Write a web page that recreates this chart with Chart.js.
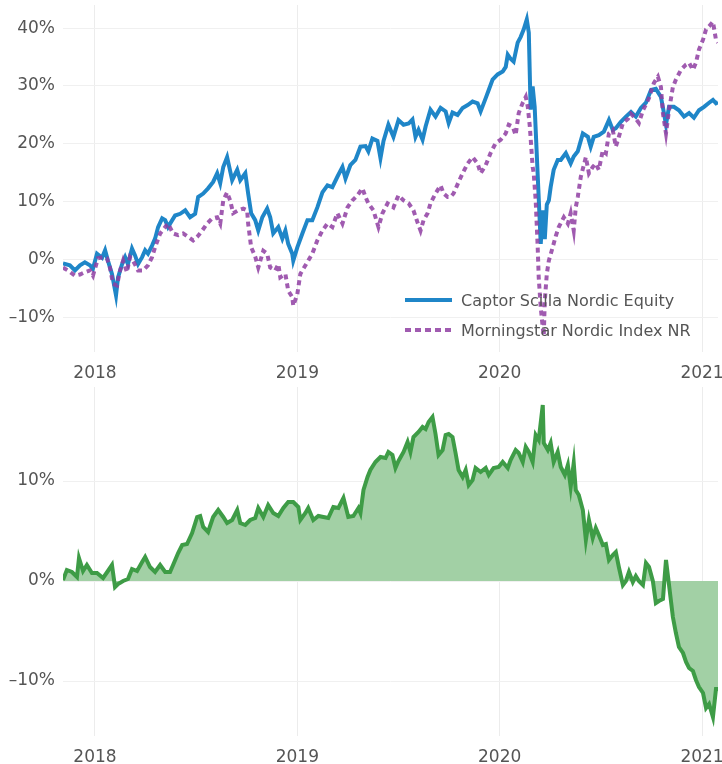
<!DOCTYPE html>
<html>
<head>
<meta charset="utf-8">
<script src="https://cdn.jsdelivr.net/npm/chart.js@4"></script>
<style>
  body { margin: 0; background: #fff; }
  #wrap { position: relative; width: 722px; height: 764px; overflow: hidden; }
  #topBox { position: absolute; left: 0; top: 0; width: 722px; height: 385px; }
  #bottomBox { position: absolute; left: 0; top: 385px; width: 722px; height: 379px; }
  .legend { position: absolute; left: 405px; top: 285px; font: 16px 'DejaVu Sans', sans-serif; color: #555; }
  .legend div { display: flex; align-items: center; height: 30px; white-space: nowrap; }
  .legend svg { margin-right: 9px; }
</style>
</head>
<body>
<div id="wrap">
  <div id="topBox"><canvas id="perfChart"></canvas></div>
  <div id="bottomBox"><canvas id="relChart"></canvas></div>
  <div class="legend">
    <div><svg width="47" height="6"><line x1="0" y1="3" x2="47" y2="3" stroke="#1f86c8" stroke-width="4"/></svg>Captor Scilla Nordic Equity</div>
    <div><svg width="47" height="6"><line x1="0" y1="3" x2="47" y2="3" stroke="#a05bb0" stroke-width="4" stroke-dasharray="6 4"/></svg>Morningstar Nordic Index NR</div>
  </div>
</div>
<script>
// time in decimal years
const captorTime = [2017.842, 2017.876, 2017.901, 2017.926, 2017.950, 2017.975, 2017.990, 2018.010, 2018.035, 2018.050, 2018.064, 2018.084, 2018.104, 2018.114, 2018.134, 2018.149, 2018.163, 2018.183, 2018.198, 2018.213, 2018.233, 2018.248, 2018.262, 2018.282, 2018.297, 2018.312, 2018.332, 2018.347, 2018.361, 2018.396, 2018.421, 2018.446, 2018.470, 2018.495, 2018.510, 2018.535, 2018.559, 2018.584, 2018.604, 2018.619, 2018.634, 2018.653, 2018.678, 2018.703, 2018.718, 2018.743, 2018.757, 2018.772, 2018.792, 2018.807, 2018.827, 2018.851, 2018.866, 2018.881, 2018.906, 2018.926, 2018.941, 2018.955, 2018.975, 2018.980, 2019.000, 2019.025, 2019.050, 2019.074, 2019.099, 2019.124, 2019.149, 2019.173, 2019.198, 2019.223, 2019.238, 2019.262, 2019.287, 2019.312, 2019.337, 2019.351, 2019.371, 2019.396, 2019.411, 2019.426, 2019.450, 2019.475, 2019.500, 2019.525, 2019.550, 2019.569, 2019.584, 2019.599, 2019.619, 2019.634, 2019.658, 2019.683, 2019.708, 2019.733, 2019.748, 2019.767, 2019.792, 2019.817, 2019.842, 2019.866, 2019.891, 2019.906, 2019.931, 2019.946, 2019.965, 2019.990, 2020.015, 2020.030, 2020.040, 2020.054, 2020.069, 2020.089, 2020.104, 2020.119, 2020.134, 2020.144, 2020.153, 2020.163, 2020.173, 2020.203, 2020.213, 2020.223, 2020.233, 2020.243, 2020.252, 2020.267, 2020.287, 2020.302, 2020.327, 2020.351, 2020.366, 2020.386, 2020.411, 2020.436, 2020.450, 2020.465, 2020.490, 2020.515, 2020.540, 2020.559, 2020.574, 2020.599, 2020.624, 2020.649, 2020.673, 2020.698, 2020.723, 2020.748, 2020.772, 2020.797, 2020.812, 2020.822, 2020.837, 2020.861, 2020.886, 2020.911, 2020.936, 2020.960, 2020.985, 2021.010, 2021.035, 2021.054, 2021.069, 2021.079];
const captorReturn = [-0.7, -1.0, -1.9, -1.0, -0.5, -1.0, -1.6, 1.0, 0.3, 1.6, -0.2, -2.5, -6.2, -3.1, -0.8, 0.4, -0.8, 1.9, 0.7, -0.8, 0.4, 1.6, 1.0, 2.4, 3.6, 5.6, 7.1, 6.8, 5.6, 7.6, 7.9, 8.5, 7.3, 7.9, 10.8, 11.4, 12.3, 13.4, 14.9, 13.2, 16.0, 17.7, 13.7, 15.5, 13.7, 14.9, 11.4, 8.0, 6.8, 5.0, 7.3, 8.8, 7.3, 4.5, 5.6, 3.6, 5.0, 2.7, 1.0, -0.2, 2.1, 4.5, 6.8, 6.8, 9.0, 11.6, 12.8, 12.5, 14.3, 16.0, 14.0, 16.3, 17.2, 19.5, 19.6, 18.7, 20.9, 20.5, 17.5, 20.5, 23.3, 21.2, 24.1, 23.3, 23.5, 24.2, 21.2, 22.4, 20.7, 23.0, 25.9, 24.7, 26.2, 25.6, 23.6, 25.4, 25.0, 26.2, 26.7, 27.3, 27.0, 25.6, 27.9, 29.3, 31.1, 32.0, 32.5, 33.3, 35.4, 34.7, 34.2, 37.5, 38.5, 39.8, 41.5, 39.2, 25.9, 29.9, 26.4, 2.7, 8.5, 3.5, 9.5, 10.2, 12.5, 15.5, 17.2, 17.2, 18.4, 16.6, 17.8, 18.7, 21.8, 21.2, 19.5, 21.2, 21.5, 22.1, 24.1, 22.4, 22.7, 23.8, 24.7, 25.5, 24.7, 26.2, 27.1, 29.3, 29.5, 28.1, 25.3, 23.3, 26.4, 26.4, 25.8, 24.7, 25.3, 24.5, 25.8, 26.4, 27.1, 27.6, 27.0, 27.2];

const indexTime = [2017.842, 2017.866, 2017.901, 2017.926, 2017.950, 2017.975, 2017.990, 2018.015, 2018.040, 2018.059, 2018.074, 2018.089, 2018.109, 2018.124, 2018.139, 2018.158, 2018.173, 2018.188, 2018.213, 2018.238, 2018.262, 2018.282, 2018.297, 2018.322, 2018.347, 2018.361, 2018.386, 2018.411, 2018.436, 2018.460, 2018.485, 2018.505, 2018.530, 2018.554, 2018.579, 2018.604, 2018.619, 2018.634, 2018.653, 2018.668, 2018.683, 2018.708, 2018.733, 2018.752, 2018.757, 2018.772, 2018.792, 2018.807, 2018.832, 2018.851, 2018.866, 2018.891, 2018.906, 2018.916, 2018.941, 2018.955, 2018.975, 2018.980, 2019.000, 2019.015, 2019.030, 2019.054, 2019.074, 2019.099, 2019.124, 2019.149, 2019.173, 2019.198, 2019.223, 2019.248, 2019.272, 2019.297, 2019.322, 2019.337, 2019.351, 2019.376, 2019.401, 2019.421, 2019.446, 2019.475, 2019.500, 2019.525, 2019.550, 2019.574, 2019.594, 2019.609, 2019.624, 2019.644, 2019.658, 2019.683, 2019.708, 2019.723, 2019.743, 2019.757, 2019.772, 2019.797, 2019.817, 2019.842, 2019.866, 2019.891, 2019.906, 2019.931, 2019.955, 2019.980, 2020.005, 2020.030, 2020.045, 2020.064, 2020.079, 2020.094, 2020.114, 2020.129, 2020.139, 2020.149, 2020.163, 2020.168, 2020.178, 2020.188, 2020.193, 2020.203, 2020.213, 2020.218, 2020.223, 2020.233, 2020.243, 2020.262, 2020.277, 2020.292, 2020.317, 2020.337, 2020.351, 2020.366, 2020.376, 2020.386, 2020.401, 2020.426, 2020.441, 2020.460, 2020.475, 2020.490, 2020.510, 2020.525, 2020.540, 2020.559, 2020.574, 2020.589, 2020.609, 2020.634, 2020.649, 2020.673, 2020.688, 2020.708, 2020.723, 2020.738, 2020.762, 2020.782, 2020.797, 2020.807, 2020.822, 2020.837, 2020.856, 2020.871, 2020.896, 2020.921, 2020.936, 2020.955, 2020.970, 2020.985, 2021.005, 2021.020, 2021.035, 2021.054, 2021.069, 2021.079];
const indexReturn = [-1.4, -1.9, -2.8, -2.6, -2.2, -1.9, -2.8, 0.2, 0.4, 0.2, -1.4, -4.2, -4.5, -1.9, -0.2, -2.2, 0.4, -0.2, -1.9, -1.9, -1.0, 0.4, 2.1, 4.5, 5.6, 6.2, 4.5, 4.2, 4.5, 3.9, 3.3, 3.9, 5.0, 6.2, 7.1, 7.3, 6.2, 10.2, 11.6, 10.2, 8.0, 8.5, 8.8, 8.5, 6.2, 2.1, 0.5, -1.4, 1.5, 1.0, -1.4, -1.9, -0.8, -3.1, -2.5, -5.4, -6.5, -8.0, -6.0, -2.5, -1.6, -0.2, 1.0, 3.3, 5.0, 6.2, 5.6, 8.0, 6.2, 9.0, 10.2, 11.1, 12.3, 10.8, 9.7, 8.5, 5.6, 8.0, 9.7, 9.0, 11.1, 10.2, 9.7, 8.5, 6.4, 5.0, 6.8, 8.0, 9.7, 11.4, 12.8, 11.4, 10.8, 10.8, 11.4, 13.4, 14.9, 16.6, 17.7, 16.6, 14.9, 16.3, 18.4, 20.1, 20.7, 21.8, 23.3, 23.0, 21.5, 25.3, 27.1, 28.1, 26.4, 23.0, 16.0, 15.0, 10.2, 2.1, -3.1, -8.3, -11.8, -13.2, -7.1, -2.5, -0.2, 2.1, 4.0, 5.6, 7.3, 6.2, 8.0, 5.0, 9.0, 10.8, 14.3, 17.7, 14.9, 16.0, 16.6, 15.5, 18.9, 18.4, 21.8, 22.4, 19.5, 21.2, 23.6, 24.3, 25.2, 24.3, 23.6, 25.8, 26.8, 27.9, 30.5, 31.6, 29.8, 25.2, 21.8, 25.8, 29.8, 31.1, 32.8, 33.7, 34.0, 32.8, 34.0, 36.3, 38.0, 39.8, 40.3, 41.1, 38.0, 37.5];

const relTime = [2017.842, 2017.861, 2017.886, 2017.911, 2017.921, 2017.941, 2017.960, 2017.985, 2018.010, 2018.040, 2018.064, 2018.084, 2018.099, 2018.114, 2018.139, 2018.163, 2018.183, 2018.208, 2018.233, 2018.248, 2018.272, 2018.297, 2018.322, 2018.347, 2018.371, 2018.386, 2018.411, 2018.431, 2018.455, 2018.480, 2018.505, 2018.520, 2018.535, 2018.559, 2018.584, 2018.609, 2018.634, 2018.653, 2018.678, 2018.703, 2018.718, 2018.743, 2018.767, 2018.792, 2018.807, 2018.832, 2018.856, 2018.881, 2018.906, 2018.931, 2018.955, 2018.980, 2019.005, 2019.015, 2019.040, 2019.054, 2019.079, 2019.104, 2019.129, 2019.153, 2019.178, 2019.203, 2019.228, 2019.252, 2019.277, 2019.302, 2019.312, 2019.327, 2019.347, 2019.361, 2019.386, 2019.411, 2019.436, 2019.450, 2019.470, 2019.485, 2019.500, 2019.525, 2019.545, 2019.559, 2019.574, 2019.599, 2019.619, 2019.634, 2019.649, 2019.668, 2019.683, 2019.698, 2019.718, 2019.733, 2019.748, 2019.767, 2019.782, 2019.797, 2019.817, 2019.832, 2019.847, 2019.866, 2019.881, 2019.906, 2019.931, 2019.946, 2019.970, 2019.995, 2020.015, 2020.040, 2020.054, 2020.079, 2020.094, 2020.114, 2020.129, 2020.144, 2020.163, 2020.178, 2020.193, 2020.213, 2020.218, 2020.238, 2020.252, 2020.267, 2020.287, 2020.302, 2020.322, 2020.337, 2020.351, 2020.366, 2020.376, 2020.391, 2020.411, 2020.426, 2020.441, 2020.460, 2020.475, 2020.490, 2020.510, 2020.525, 2020.540, 2020.559, 2020.574, 2020.589, 2020.609, 2020.624, 2020.639, 2020.658, 2020.673, 2020.688, 2020.708, 2020.723, 2020.738, 2020.757, 2020.772, 2020.787, 2020.807, 2020.822, 2020.837, 2020.856, 2020.871, 2020.886, 2020.906, 2020.921, 2020.936, 2020.955, 2020.970, 2020.985, 2021.005, 2021.020, 2021.035, 2021.054, 2021.069, 2021.079];
const relReturn = [0.1, 1.1, 0.9, 0.4, 2.3, 1.0, 1.6, 0.8, 0.8, 0.3, 1.0, 1.6, -0.6, -0.3, 0.0, 0.2, 1.2, 1.0, 1.9, 2.4, 1.4, 0.9, 1.6, 0.9, 0.9, 1.6, 2.8, 3.6, 3.7, 4.8, 6.4, 6.5, 5.4, 4.9, 6.4, 7.1, 6.4, 5.8, 6.1, 7.1, 5.8, 5.6, 6.1, 6.3, 7.3, 6.4, 7.6, 6.8, 6.5, 7.3, 7.9, 7.9, 7.4, 6.1, 6.8, 7.3, 6.1, 6.5, 6.4, 6.3, 7.4, 7.3, 8.3, 6.4, 6.5, 7.3, 6.8, 9.1, 10.4, 11.1, 11.9, 12.4, 12.3, 12.9, 12.6, 11.3, 12.0, 12.9, 13.9, 12.9, 14.4, 14.9, 15.4, 15.2, 15.9, 16.4, 14.7, 12.6, 13.1, 14.6, 14.7, 14.4, 12.8, 11.1, 10.4, 11.1, 9.6, 10.1, 11.3, 10.9, 11.3, 10.6, 11.3, 11.4, 11.9, 11.3, 12.1, 13.1, 12.8, 11.9, 13.4, 12.9, 11.9, 14.6, 14.1, 17.6, 13.8, 13.1, 13.8, 11.9, 12.9, 11.4, 10.6, 11.6, 9.4, 11.8, 9.1, 8.6, 7.1, 4.1, 6.1, 4.3, 5.3, 4.6, 3.6, 3.7, 2.1, 2.6, 2.9, 1.4, -0.4, 0.0, 0.9, -0.1, 0.5, 0.0, -0.4, 1.8, 1.4, 0.0, -2.2, -2.0, -1.8, 2.1, -0.4, -3.6, -5.2, -6.6, -7.2, -8.1, -8.7, -9.0, -9.9, -10.6, -11.2, -12.7, -12.3, -13.6, -10.8, -10.8];

const yearTicks = [2018, 2019, 2020, 2021];
const perfTicks = [-10, 0, 10, 20, 30, 40];
const relTicks = [-10, 0, 10];

Chart.defaults.font.family = "'DejaVu Sans', sans-serif";
Chart.defaults.font.size = 17;
Chart.defaults.color = '#555';

function toPoints(xs, ys) {
    return xs.map((x, i) => ({ x: x, y: ys[i] }));
}

function pct(v) {
    return (v < 0 ? '\u2013' + Math.abs(v) : v) + '%';
}

function buildScales(yMin, yMax, yTickValues, xHeight) {
    return {
        x: {
            type: 'linear',
            min: 2017.842,
            max: 2021.079,
            afterBuildTicks: axis => { axis.ticks = yearTicks.map(v => ({ value: v })); },
            afterFit: axis => {
                axis.height = xHeight;
                axis.paddingLeft = 0;
                axis.paddingRight = 0;
            },
            grid: { color: '#ececec', drawTicks: false },
            border: { display: false },
            ticks: { padding: 11, maxRotation: 0, callback: v => String(v) }
        },
        y: {
            min: yMin,
            max: yMax,
            afterBuildTicks: axis => { axis.ticks = yTickValues.map(v => ({ value: v })); },
            afterFit: axis => {
                axis.width = 63;
                axis.paddingTop = 0;
                axis.paddingBottom = 0;
            },
            grid: { color: '#f0f0f0', drawTicks: false },
            border: { display: false },
            ticks: { padding: 8, callback: v => pct(v) }
        }
    };
}

new Chart(document.getElementById('perfChart'), {
    type: 'line',
    data: {
        datasets: [
            {
                label: 'Captor Scilla Nordic Equity',
                data: toPoints(captorTime, captorReturn),
                borderColor: '#1f86c8',
                borderWidth: 4,
                pointRadius: 0,
                tension: 0,
                order: 1
            },
            {
                label: 'Morningstar Nordic Index NR',
                data: toPoints(indexTime, indexReturn),
                borderColor: 'rgba(143, 62, 162, 0.85)',
                borderWidth: 4,
                borderDash: [5, 4],
                borderCapStyle: 'butt',
                pointRadius: 0,
                tension: 0,
                order: 0
            }
        ]
    },
    options: {
        responsive: true,
        maintainAspectRatio: false,
        animation: false,
        layout: { padding: { top: 5, right: 4, left: 0, bottom: 0 } },
        scales: buildScales(-16, 44, perfTicks, 33),
        plugins: { legend: { display: false }, tooltip: { enabled: false } }
    }
});

new Chart(document.getElementById('relChart'), {
    type: 'line',
    data: {
        datasets: [
            {
                label: 'Relative',
                data: toPoints(relTime, relReturn),
                borderColor: '#3e9c46',
                backgroundColor: '#a2d0a5',
                borderWidth: 4,
                fill: 'origin',
                pointRadius: 0,
                tension: 0
            }
        ]
    },
    options: {
        responsive: true,
        maintainAspectRatio: false,
        animation: false,
        layout: { padding: { top: 2, right: 4, left: 0, bottom: 0 } },
        scales: buildScales(-15.5, 19.4, relTicks, 28),
        plugins: { legend: { display: false }, tooltip: { enabled: false } }
    }
});
</script>
</body>
</html>
